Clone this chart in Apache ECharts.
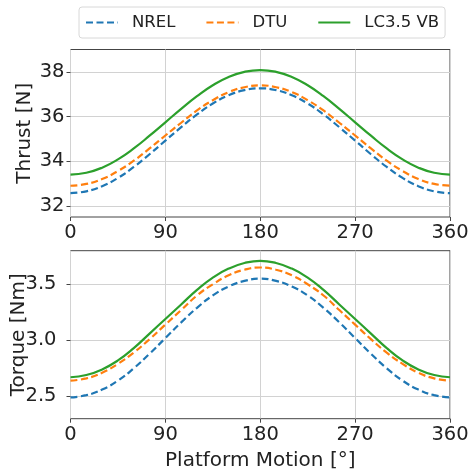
<!DOCTYPE html>
<html>
<head>
<meta charset="utf-8">
<script src="https://cdn.jsdelivr.net/npm/echarts@6/dist/echarts.min.js"></script>
<style>
  html, body { margin: 0; padding: 0; background: #fff; }
  #chart { width: 471px; height: 469px; }
</style>
</head>
<body>
<div id="chart"></div>
<script>
// platform motion angle [deg]
const angles = [0, 15, 30, 45, 60, 75, 90, 105, 120, 135, 150, 165, 180,
  195, 210, 225, 240, 255, 270, 285, 300, 315, 330, 345, 360];

// thrust [N]
const thrustNrel = [32.57, 32.65, 32.88, 33.25, 33.74, 34.31, 34.92, 35.52, 36.09, 36.58, 36.95, 37.18, 37.26,
  37.18, 36.95, 36.58, 36.09, 35.52, 34.92, 34.31, 33.74, 33.25, 32.88, 32.65, 32.57];
const thrustDtu = [32.90, 32.98, 33.20, 33.56, 34.02, 34.57, 35.15, 35.72, 36.27, 36.73, 37.09, 37.31, 37.39,
  37.31, 37.09, 36.73, 36.27, 35.72, 35.15, 34.57, 34.02, 33.56, 33.20, 32.98, 32.90];
const thrustLc = [33.40, 33.48, 33.71, 34.08, 34.57, 35.14, 35.74, 36.34, 36.91, 37.40, 37.77, 38.00, 38.08,
  38.00, 37.77, 37.40, 36.91, 36.34, 35.74, 35.14, 34.57, 34.08, 33.71, 33.48, 33.40];

// torque [Nm]
const torqueNrel = [2.49, 2.51, 2.56, 2.64, 2.75, 2.88, 3.02, 3.16, 3.29, 3.40, 3.48, 3.53, 3.55,
  3.53, 3.48, 3.40, 3.29, 3.16, 3.02, 2.88, 2.75, 2.64, 2.56, 2.51, 2.49];
const torqueDtu = [2.64, 2.66, 2.71, 2.79, 2.89, 3.01, 3.14, 3.27, 3.40, 3.50, 3.58, 3.63, 3.65,
  3.63, 3.58, 3.50, 3.40, 3.27, 3.14, 3.01, 2.89, 2.79, 2.71, 2.66, 2.64];
const torqueLc = [2.67, 2.69, 2.74, 2.82, 2.93, 3.06, 3.19, 3.32, 3.45, 3.56, 3.64, 3.69, 3.71,
  3.69, 3.64, 3.56, 3.45, 3.32, 3.19, 3.06, 2.93, 2.82, 2.74, 2.69, 2.67];

const seriesNames = ["NREL", "DTU", "LC3.5 VB"];
const colors = ["#1f77b4", "#ff7f0e", "#2ca02c"];
const thrustTicks = [32, 34, 36, 38];
const torqueTicks = [2.5, 3.0, 3.5];

const font = "DejaVu Sans";
const chart = echarts.init(document.getElementById("chart"));

function pairs(ys) {
  return angles.map((a, i) => [a, ys[i]]);
}

function xAxis(gridIndex, name) {
  return {
    type: "value", gridIndex, min: 0, max: 360, interval: 90,
    name: name, nameLocation: "middle", nameGap: 32, nameMoveOverlap: false,
    nameTextStyle: { fontFamily: font, fontSize: 20, color: "#222" },
    axisLine: { show: false },
    axisTick: { show: true, length: 4, lineStyle: { color: "#444" } },
    axisLabel: { fontFamily: font, fontSize: 19.5, color: "#222", margin: 6 },
    splitLine: { show: true, lineStyle: { color: "#d2d2d2", width: 1 } }
  };
}

function yAxis(gridIndex, name, min, max, ticks, gap, margin, fmt) {
  return {
    type: "value", gridIndex, min, max,
    name: name, nameLocation: "middle", nameRotate: 90, nameGap: gap, nameMoveOverlap: false,
    nameTextStyle: { fontFamily: font, fontSize: 20, color: "#222" },
    axisLine: { show: false },
    axisTick: { show: true, length: 4, customValues: ticks, lineStyle: { color: "#444" } },
    axisLabel: { fontFamily: font, fontSize: 19.5, color: "#222", margin, customValues: ticks, formatter: fmt },
    splitLine: { show: true, lineStyle: { color: "#d2d2d2", width: 1 } }
  };
}

function line(name, i, data, axisIdx) {
  return {
    name, type: "line", xAxisIndex: axisIdx, yAxisIndex: axisIdx,
    data: pairs(data), smooth: true, symbol: "none",
    lineStyle: { color: colors[i], width: 2.2, type: i < 2 ? [7, 3.5] : "solid" },
    itemStyle: { color: colors[i] }
  };
}

chart.setOption({
  animation: false,
  color: colors,
  legend: {
    data: seriesNames,
    left: 79, top: 7, width: 363,
    padding: [7, 6, 7, 6],
    itemGap: 30, itemWidth: 32, itemHeight: 14,
    borderColor: "#d8d8d8", borderWidth: 1, borderRadius: 3,
    itemStyle: { opacity: 0 },
    textStyle: { fontFamily: font, fontSize: 16.5, color: "#222", padding: [0, 0, 0, 9] }
  },
  grid: [
    { left: 70.5, right: 21, top: 49.5, height: 167.5, show: true, borderColor: "#444", borderWidth: 1, outerBoundsMode: "none" },
    { left: 70.5, right: 21, top: 250.7, height: 168, show: true, borderColor: "#444", borderWidth: 1, outerBoundsMode: "none" }
  ],
  xAxis: [xAxis(0, ""), xAxis(1, "Platform Motion [°]")],
  yAxis: [
    yAxis(0, "Thrust [N]", 31.5, 39, thrustTicks, 36, 6, v => String(v)),
    yAxis(1, "Torque [Nm]", 2.3, 3.8, torqueTicks, 42, 14, v => v.toFixed(1))
  ],
  series: [
    line(seriesNames[0], 0, thrustNrel, 0),
    line(seriesNames[1], 1, thrustDtu, 0),
    line(seriesNames[2], 2, thrustLc, 0),
    line(seriesNames[0], 0, torqueNrel, 1),
    line(seriesNames[1], 1, torqueDtu, 1),
    line(seriesNames[2], 2, torqueLc, 1)
  ]
});
</script>
</body>
</html>
